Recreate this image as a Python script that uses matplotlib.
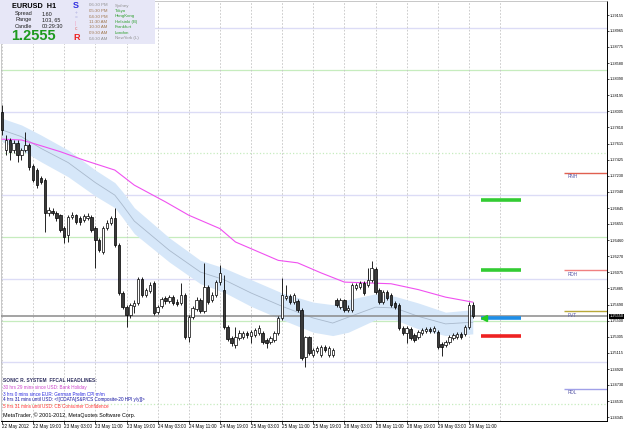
import numpy as np
import matplotlib.pyplot as plt
import matplotlib.transforms as mtransforms
from matplotlib.patches import Rectangle

plt.rcParams['font.family'] = ['Liberation Sans', 'DejaVu Sans']

# EURUSD H1, one candle per hour from 22 May 11:00 to 29 May 12:00
opens = [1.2800, 1.2754, 1.2766, 1.2754, 1.2762, 1.2748, 1.2754, 1.2760, 1.2735, 1.2730,
         1.2721, 1.2718, 1.2679, 1.2681, 1.2679, 1.2676, 1.2661, 1.2652, 1.2674, 1.2676,
         1.2673, 1.2670, 1.2673, 1.2674, 1.2661, 1.2646, 1.2632, 1.2661, 1.2667, 1.2673,
         1.2640, 1.2583, 1.2566, 1.2557, 1.2567, 1.2571, 1.2600, 1.2581, 1.2585, 1.2595,
         1.2560, 1.2567, 1.2577, 1.2573, 1.2578, 1.2572, 1.2571, 1.2580, 1.2530, 1.2554,
         1.2564, 1.2575, 1.2561, 1.2590, 1.2575, 1.2580, 1.2596, 1.2587, 1.2542, 1.2529,
         1.2521, 1.2529, 1.2530, 1.2535, 1.2532, 1.2533, 1.2535, 1.2535, 1.2527, 1.2524,
         1.2527, 1.2535, 1.2553, 1.2577, 1.2579, 1.2572, 1.2573, 1.2563, 1.2506, 1.2530,
         1.2509, 1.2513, 1.2509, 1.2518, 1.2509, 1.2509, 1.2575, 1.2566, 1.2575, 1.2563,
         1.2563, 1.2589, 1.2590, 1.2595, 1.2593, 1.2599, 1.2612, 1.2587, 1.2572, 1.2584,
         1.2580, 1.2571, 1.2569, 1.2541, 1.2535, 1.2540, 1.2533, 1.2530, 1.2535, 1.2537,
         1.2540, 1.2537, 1.2536, 1.2522, 1.2521, 1.2524, 1.2529, 1.2530, 1.2534, 1.2534,
         1.2542, 1.2569]
highs = [1.2808, 1.2772, 1.2768, 1.2766, 1.2766, 1.2757, 1.2776, 1.2762, 1.2737, 1.2732,
         1.2723, 1.2720, 1.2686, 1.2685, 1.2681, 1.2678, 1.2663, 1.2676, 1.2680, 1.2678,
         1.2675, 1.2677, 1.2679, 1.2676, 1.2663, 1.2649, 1.2663, 1.2670, 1.2675, 1.2685,
         1.2643, 1.2585, 1.2569, 1.2571, 1.2575, 1.2602, 1.2602, 1.2589, 1.2596, 1.2597,
         1.2569, 1.2578, 1.2579, 1.2580, 1.2580, 1.2576, 1.2595, 1.2583, 1.2557, 1.2567,
         1.2578, 1.2577, 1.2619, 1.2593, 1.2584, 1.2598, 1.2616, 1.2604, 1.2545, 1.2531,
         1.2542, 1.2539, 1.2537, 1.2537, 1.2539, 1.2541, 1.2545, 1.2537, 1.2529, 1.2531,
         1.2537, 1.2555, 1.2601, 1.2593, 1.2582, 1.2583, 1.2576, 1.2565, 1.2532, 1.2532,
         1.2517, 1.2520, 1.2521, 1.2521, 1.2520, 1.2517, 1.2577, 1.2577, 1.2576, 1.2568,
         1.2595, 1.2595, 1.2597, 1.2597, 1.2613, 1.2621, 1.2614, 1.2589, 1.2587, 1.2587,
         1.2583, 1.2573, 1.2571, 1.2543, 1.2543, 1.2542, 1.2535, 1.2539, 1.2541, 1.2542,
         1.2542, 1.2543, 1.2539, 1.2524, 1.2527, 1.2533, 1.2535, 1.2536, 1.2536, 1.2545,
         1.2572, 1.2572]
lows = [1.2772, 1.2748, 1.2742, 1.2750, 1.2740, 1.2742, 1.2752, 1.2730, 1.2716, 1.2708,
        1.2713, 1.2656, 1.2675, 1.2676, 1.2669, 1.2656, 1.2643, 1.2644, 1.2671, 1.2665,
        1.2664, 1.2668, 1.2670, 1.2656, 1.2613, 1.2632, 1.2630, 1.2658, 1.2664, 1.2638,
        1.2580, 1.2564, 1.2542, 1.2553, 1.2559, 1.2569, 1.2578, 1.2578, 1.2583, 1.2557,
        1.2558, 1.2565, 1.2570, 1.2571, 1.2568, 1.2567, 1.2568, 1.2528, 1.2524, 1.2552,
        1.2561, 1.2559, 1.2559, 1.2570, 1.2572, 1.2578, 1.2593, 1.2540, 1.2525, 1.2520,
        1.2517, 1.2527, 1.2528, 1.2529, 1.2523, 1.2530, 1.2533, 1.2522, 1.2517, 1.2522,
        1.2524, 1.2533, 1.2551, 1.2574, 1.2570, 1.2570, 1.2560, 1.2503, 1.2494, 1.2509,
        1.2506, 1.2511, 1.2506, 1.2512, 1.2506, 1.2506, 1.2566, 1.2564, 1.2560, 1.2560,
        1.2560, 1.2587, 1.2588, 1.2581, 1.2590, 1.2596, 1.2582, 1.2570, 1.2570, 1.2575,
        1.2566, 1.2564, 1.2539, 1.2533, 1.2523, 1.2527, 1.2524, 1.2528, 1.2533, 1.2535,
        1.2535, 1.2535, 1.2516, 1.2508, 1.2518, 1.2522, 1.2527, 1.2528, 1.2528, 1.2531,
        1.2540, 1.2553]
closes = [1.2778, 1.2766, 1.2752, 1.2762, 1.2748, 1.2754, 1.2760, 1.2734, 1.2718, 1.2712,
          1.2716, 1.2679, 1.2682, 1.2679, 1.2673, 1.2658, 1.2650, 1.2674, 1.2676, 1.2668,
          1.2668, 1.2675, 1.2675, 1.2658, 1.2646, 1.2634, 1.2661, 1.2667, 1.2673, 1.2640,
          1.2583, 1.2566, 1.2557, 1.2569, 1.2571, 1.2600, 1.2581, 1.2587, 1.2592, 1.2559,
          1.2566, 1.2576, 1.2573, 1.2578, 1.2571, 1.2570, 1.2580, 1.2530, 1.2554, 1.2565,
          1.2575, 1.2561, 1.2590, 1.2572, 1.2580, 1.2596, 1.2607, 1.2542, 1.2528, 1.2523,
          1.2530, 1.2535, 1.2535, 1.2533, 1.2536, 1.2539, 1.2541, 1.2524, 1.2523, 1.2529,
          1.2535, 1.2553, 1.2580, 1.2579, 1.2572, 1.2580, 1.2563, 1.2505, 1.2530, 1.2511,
          1.2515, 1.2517, 1.2518, 1.2515, 1.2517, 1.2515, 1.2569, 1.2575, 1.2563, 1.2565,
          1.2593, 1.2593, 1.2595, 1.2583, 1.2599, 1.2613, 1.2584, 1.2572, 1.2584, 1.2577,
          1.2569, 1.2566, 1.2541, 1.2535, 1.2541, 1.2529, 1.2527, 1.2536, 1.2539, 1.2540,
          1.2537, 1.2541, 1.2518, 1.2518, 1.2524, 1.2530, 1.2533, 1.2534, 1.2530, 1.2542,
          1.2569, 1.2555]

# slow magenta moving average, read at a few bars
ma_idx = [0, 5, 8, 15, 21, 29, 34, 42, 48, 56, 60, 66, 71, 76, 82, 88, 94, 100, 107, 114, 121]
ma_vals = [1.2767, 1.2766, 1.2762, 1.2752, 1.2742, 1.2730, 1.2712, 1.2692, 1.2676, 1.2660,
           1.2644, 1.2632, 1.2622, 1.2619, 1.2607, 1.2596, 1.2595, 1.2594, 1.2587, 1.2578, 1.2572]

# Sonic R dragon band (EMA 34 high / close / low)
band_idx = [0, 5, 10, 17, 24, 29, 31, 34, 43, 51, 57, 64, 72, 80, 85, 89, 96, 101, 107, 114, 121]
band_upper = [1.2792, 1.2784, 1.2772, 1.2754, 1.2730, 1.2715, 1.2704, 1.2685, 1.2649, 1.2622, 1.2613,
              1.2599, 1.2583, 1.2572, 1.2569, 1.2575, 1.2582, 1.2579, 1.2571, 1.2560, 1.2563]
band_mid = [1.2778, 1.2770, 1.2756, 1.2739, 1.2715, 1.2700, 1.2688, 1.2669, 1.2634, 1.2608, 1.2599,
            1.2583, 1.2567, 1.2553, 1.2547, 1.2554, 1.2566, 1.2565, 1.2555, 1.2546, 1.2548]
band_lower = [1.2764, 1.2754, 1.2740, 1.2722, 1.2699, 1.2685, 1.2673, 1.2654, 1.2620, 1.2594, 1.2584,
              1.2567, 1.2551, 1.2536, 1.2532, 1.2536, 1.2551, 1.2551, 1.2540, 1.2532, 1.2534]

# round number levels
lavender_levels = [1.2900, 1.2800, 1.2700, 1.2600, 1.2500]
green_levels = [1.2850, 1.2750, 1.2650, 1.2550, 1.2450]

# projection markers right of the last candle
proj_levels = [1.2694, 1.2610, 1.2553, 1.2532]
proj_colors = ['#33cc33', '#33cc33', '#1e8ee8', '#ee2222']

# daily pivot lines
pivot_names = ['RNH', 'RDH', 'PVT', 'RDL']
pivot_levels = [1.27265, 1.2610, 1.2561, 1.2468]
pivot_colors = ['#e06050', '#f08080', '#b8a838', '#a0a0e8']

ytick_vals = [1.29155, 1.28965, 1.28775, 1.28580, 1.28390, 1.28195, 1.28005, 1.27810, 1.27615,
              1.27425, 1.27230, 1.27040, 1.26845, 1.26655, 1.26460, 1.26270, 1.26075, 1.25885,
              1.25690, 1.25500, 1.25305, 1.25115, 1.24920, 1.24730, 1.24535, 1.24345]
xtick_labels = ['22 May 2012', '22 May 19:00', '23 May 03:00', '23 May 11:00', '23 May 19:00',
                '24 May 03:00', '24 May 11:00', '24 May 19:00', '25 May 03:00', '25 May 11:00',
                '25 May 19:00', '28 May 03:00', '28 May 11:00', '28 May 19:00', '29 May 03:00',
                '29 May 11:00']

sessions = [('06:30 PM', 'Sydney'), ('05:30 PM', 'Tokyo'), ('04:30 PM', 'HongKong'),
            ('11:30 AM', 'Helsinki (B)'), ('10:30 AM', 'Frankfurt'), ('09:30 AM', 'London'),
            ('04:30 AM', 'NewYork (L)')]
headlines = ['30 hrs 29 mins since USD: Bank Holiday',
             '3 hrs 0 mins since EUR: German Prelim CPI m/m',
             '4 hrs 31 mins until USD: <![CDATA[S&P/CS Composite-20 HPI y/y]]>',
             '5 hrs 31 mins until USD: CB Consumer Confidence']

W, H = 625, 429
fig = plt.figure(figsize=(W / 100, H / 100), dpi=100)
ax = fig.add_axes([1 / W, 8 / H, 606 / W, 420 / H])


def px(x, y):
    """pixel position (from top-left) -> figure fraction"""
    return x / W, 1 - y / H


# background levels and grid
for lv in lavender_levels:
    ax.axhline(lv, color='#dcdcf6', lw=1.0, zorder=1)
for lv in green_levels:
    ls = ':' if lv in (1.2750, 1.2450) else '-'
    ax.axhline(lv, color='#c6ecbe', lw=0.9, ls=ls, zorder=1)

xtick_idx = np.arange(len(xtick_labels)) * 8
for t in list(xtick_idx) + [128]:
    ax.axvline(t, color='#c4c4c4', lw=0.6, ls=(0, (2, 2)), zorder=1)

# dragon band and moving averages
ax.fill_between(band_idx, band_lower, band_upper, color='#d6e7f9', lw=0, zorder=2)
ax.plot(band_idx, band_mid, color='#a9b9cc', lw=0.6, zorder=3)
ax.plot(ma_idx, ma_vals, color='#f050f0', lw=0.8, zorder=3)

# bid line
ax.axhline(closes[-1], color='#8a8a8a', lw=1.1, zorder=3)

# candles
x = np.arange(len(closes))
o, h, l, c = (np.array(v) for v in (opens, highs, lows, closes))
up = c >= o
ax.vlines(x, np.minimum(l, np.minimum(o, c)), np.maximum(h, np.maximum(o, c)),
          color='black', lw=0.6, zorder=4)
ax.bar(x[up], (c - o)[up], bottom=o[up], width=0.62, color='white',
       edgecolor='black', lw=0.5, zorder=5)
ax.bar(x[~up], (o - c)[~up], bottom=c[~up], width=0.62, color='#3a3a3a',
       edgecolor='black', lw=0.5, zorder=5)

# projection markers
ax.hlines(proj_levels, 123, 133.5, colors=proj_colors, lw=2.6, zorder=6)
ax.plot([124], [proj_levels[2]], marker='<', color='#22cc22', ms=4, zorder=7)

# pivots
ax.hlines(pivot_levels, 144.5, 156, colors=pivot_colors, lw=1.0, zorder=6)
for name, lv in zip(pivot_names, pivot_levels):
    ax.text(145.5, lv - 0.00015, name, fontsize=3.4, color='#5a5aa8', va='top', zorder=7)

ax.set_xlim(-0.26, 155.5)
ax.set_ylim(1.24298, 1.29323)

# axes styling
for side in ['left', 'top']:
    ax.spines[side].set_color('#b0b0b0')
    ax.spines[side].set_linewidth(0.5)
for side in ['right', 'bottom']:
    ax.spines[side].set_color('black')
    ax.spines[side].set_linewidth(0.7)

ax.yaxis.tick_right()
ax.set_yticks(ytick_vals)
ax.set_yticklabels([f'{v:.5f}' for v in ytick_vals])
ax.tick_params(axis='y', length=1.5, width=0.5, pad=0.6, labelsize=2.8)
ax.set_xticks(xtick_idx)
ax.set_xticklabels(xtick_labels, ha='left')
ax.tick_params(axis='x', length=2, width=0.5, pad=0.5, labelsize=3.3)

trans = mtransforms.blended_transform_factory(ax.transAxes, ax.transData)
ax.text(1.0045, closes[-1], f'{closes[-1]:.5f}', transform=trans, fontsize=2.8,
        color='white', va='center', ha='left', zorder=8,
        bbox=dict(facecolor='black', edgecolor='none', pad=0.4))

# info panel, top left
fig.patches.append(Rectangle(px(0, 44), 155 / W, 44 / H, transform=fig.transFigure,
                             facecolor='#e7e7f7', edgecolor='none', zorder=1))
fig.text(*px(12, 6), 'EURUSD  H1', fontsize=5.2, weight='bold', va='center', zorder=2)
rows = [('Spread', '1.60'), ('Range', '103, 65'), ('Candle', '00:29:30')]
for k, (lab, val) in enumerate(rows):
    fig.text(*px(15, 14 + 6 * k), lab, fontsize=4, va='center', color='#202020', zorder=2)
    fig.text(*px(42, 14 + 6 * k), val, fontsize=4, va='center', color='#202020', zorder=2)
fig.text(*px(11, 36), f'{closes[-1]:.4f}', fontsize=10.5, weight='bold', color='#1e9a1e',
         va='center', zorder=2)
fig.text(*px(73, 6), 'S', fontsize=6.5, weight='bold', color='#3030e0', va='center', zorder=2)
for k, (sym, col) in enumerate([('+', '#b0b0e0'), ('=', '#b0b0e0'), ('|', '#f0a0c0'), ('c', '#e07070')]):
    fig.text(*px(75, 13 + 5 * k), sym, fontsize=3.5, color=col, va='center', zorder=2)
fig.text(*px(73, 37), 'R', fontsize=6.5, weight='bold', color='#ee2222', va='center', zorder=2)
for k, (tm, city) in enumerate(sessions):
    grey = k in (0, 6)
    fig.text(*px(89, 5.5 + 5.5 * k), tm, fontsize=3.2, va='center',
             color='#909090' if grey else '#a07850', zorder=2)
    fig.text(*px(115, 5.5 + 5.5 * k), city, fontsize=3.2, va='center',
             color='#909090' if grey else '#30a030', zorder=2)

# headlines, bottom left
fig.text(*px(3, 381), 'SONIC R. SYSTEM  FFCAL HEADLINES:', fontsize=3.5, weight='bold',
         color='#303060', va='center')
for k, (txt, col) in enumerate(zip(headlines, ['#cc44cc', '#2828e0', '#1010a0', '#ff3030'])):
    fig.text(*px(3, 388 + 6 * k), txt, fontsize=3.3, color=col, va='center')
fig.text(*px(3, 415.5), 'MetaTrader, \u00a9 2001-2012, MetaQuotes Software Corp.', fontsize=3.9,
         color='black', va='center')

fig.savefig('out.png', dpi=100)
